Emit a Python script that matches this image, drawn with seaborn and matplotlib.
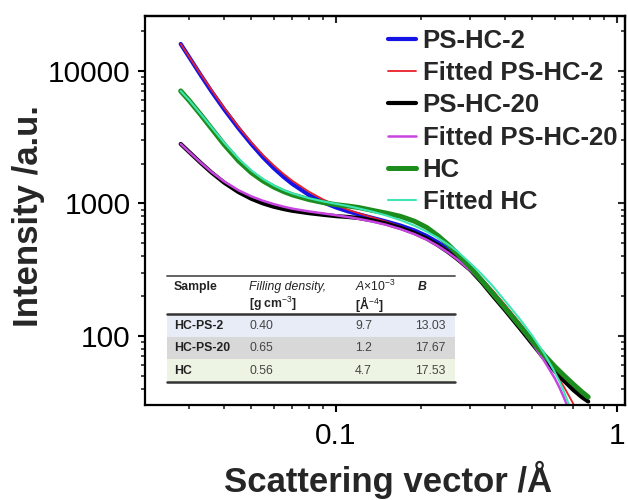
import matplotlib
matplotlib.use("Agg")
import matplotlib.pyplot as plt
import matplotlib.ticker as mticker
from matplotlib.patches import Rectangle
from matplotlib.lines import Line2D
import seaborn as sns
import pandas as pd

# ---- SAXS curves: scattering vector q and intensity ----
q_data = [0.028, 0.03, 0.033, 0.036, 0.04, 0.045, 0.05, 0.055, 0.06, 0.065,
          0.07, 0.08, 0.09, 0.1, 0.11, 0.12, 0.135, 0.15, 0.17, 0.19,
          0.21, 0.23, 0.25, 0.27, 0.3, 0.33, 0.36, 0.4, 0.45, 0.5,
          0.55, 0.6, 0.65, 0.7, 0.75, 0.79]
i_ps_hc_2 = [15990, 12733, 9298, 7037, 5128, 3685, 2802, 2229, 1849, 1588,
             1400, 1161, 1020, 933, 873, 829, 777, 733, 680, 626,
             569, 510, 452, 398, 326, 264, 214, 164, 121, 92,
             71.8, 57.5, 47.5, 40.3, 35.1]
i_ps_hc_20 = [2812, 2449, 2024, 1716, 1435, 1217, 1084, 1000, 945, 908,
              880, 845, 821, 802, 791, 777, 744, 707, 653, 599,
              544, 486, 431, 381, 316, 254, 203, 156, 115, 87,
              67.6, 54.5, 45.5, 39.0, 34.5, 32.0]
i_hc = [7066, 5988, 4675, 3696, 2780, 2095, 1705, 1478, 1331, 1231,
        1160, 1071, 1016, 979, 957, 933, 886, 848, 798, 735,
        660, 573, 492, 419, 331, 262, 211, 162, 120, 91.5,
        71.9, 58.9, 49.9, 43.1, 37.8, 34.6]

q_fit_2 = [0.028, 0.03, 0.033, 0.036, 0.04, 0.045, 0.05, 0.055, 0.06, 0.065,
           0.07, 0.08, 0.09, 0.1, 0.11, 0.12, 0.135, 0.15, 0.17, 0.19,
           0.21, 0.23, 0.25, 0.27, 0.3, 0.33, 0.36, 0.4, 0.45, 0.5,
           0.55, 0.6, 0.65, 0.7, 0.73]
fit_ps_hc_2 = [15990, 12825, 9454, 7219, 5260, 3780, 2889, 2320, 1941, 1673,
               1481, 1228, 1072, 970, 899, 846, 783, 731, 668, 608,
               550, 494, 442, 393, 327, 270, 222, 171, 126, 94.3,
               71.2, 53.9, 40.7, 30.6, 25.6]
q_fit_20 = [0.028, 0.03, 0.033, 0.036, 0.04, 0.045, 0.05, 0.055, 0.06, 0.065,
            0.07, 0.08, 0.09, 0.1, 0.11, 0.12, 0.135, 0.15, 0.17, 0.19,
            0.21, 0.23, 0.25, 0.27, 0.3, 0.33, 0.36, 0.4, 0.45, 0.5,
            0.55, 0.6, 0.625, 0.65, 0.665]
fit_ps_hc_20 = [2812, 2450, 2035, 1733, 1464, 1256, 1130, 1047, 989, 946,
                913, 871, 841, 815, 790, 766, 729, 692, 640, 587,
                533, 479, 427, 379, 313, 258, 211, 162, 119, 88,
                65.2, 48.1, 40.5, 33.6, 29.8]
q_fit_hc = [0.028, 0.03, 0.033, 0.036, 0.04, 0.045, 0.05, 0.055, 0.06, 0.065,
            0.07, 0.08, 0.09, 0.1, 0.11, 0.12, 0.135, 0.15, 0.17, 0.19,
            0.21, 0.23, 0.25, 0.27, 0.3, 0.33, 0.36, 0.4, 0.45, 0.5,
            0.55, 0.6, 0.625, 0.65, 0.67, 0.68]
fit_hc = [7066, 6029, 4729, 3772, 2868, 2174, 1770, 1527, 1370, 1264,
          1189, 1095, 1036, 993, 956, 919, 866, 815, 747, 680,
          614, 551, 491, 436, 355, 292, 240, 183, 135, 100,
          74.0, 53.5, 45.2, 37.2, 31.4, 28.7]

# ---- fit parameter table ----
tbl_samples = ["HC-PS-2", "HC-PS-20", "HC"]
tbl_density = ["0.40", "0.65", "0.56"]
tbl_a = ["9.7", "1.2", "4.7"]
tbl_b = ["13.03", "17.67", "17.53"]
tbl_colors = ["#E7ECF7", "#D8D8D8", "#EEF4E3"]

x_ticks = [0.1, 1]
y_ticks = [100, 1000, 10000]

sns.set_style("ticks")
plt.rcParams["font.family"] = ["Liberation Sans", "DejaVu Sans"]
plt.rcParams["mathtext.fontset"] = "custom"
plt.rcParams["mathtext.rm"] = "Liberation Sans"
plt.rcParams["mathtext.it"] = "Liberation Sans:italic"
plt.rcParams["mathtext.bf"] = "Liberation Sans:bold"

W, H = 628, 500
fig = plt.figure(figsize=(W / 100, H / 100), dpi=100)
ax = fig.add_axes([145 / W, 1 - 405 / H, 480 / W, 389 / H])
ax.set_xscale("log")
ax.set_yscale("log")

series = [
    ("PS-HC-2", q_data[:len(i_ps_hc_2)], i_ps_hc_2, "#1414E6", 3.0),
    ("Fitted PS-HC-2", q_fit_2, fit_ps_hc_2, "#E8202A", 1.3),
    ("PS-HC-20", q_data, i_ps_hc_20, "#000000", 3.0),
    ("Fitted PS-HC-20", q_fit_20, fit_ps_hc_20, "#C844E0", 1.8),
    ("HC", q_data, i_hc, "#1C8C1C", 3.6),
    ("Fitted HC", q_fit_hc, fit_hc, "#3EE6B4", 1.5),
]
for name, qq, ii, col, lw in series:
    df = pd.DataFrame({"q": qq, "I": ii})
    sns.lineplot(data=df, x="q", y="I", ax=ax, color=col, lw=lw,
                 label=name, estimator=None, sort=True)

ax.set_xlim(0.0209, 1.068)
ax.set_ylim(30.1, 26000)
ax.set_xlabel("")
ax.set_ylabel("")

fmt = mticker.FuncFormatter(lambda v, p: f"{v:g}")
ax.xaxis.set_major_locator(mticker.FixedLocator(x_ticks))
ax.yaxis.set_major_locator(mticker.FixedLocator(y_ticks))
ax.xaxis.set_major_formatter(fmt)
ax.yaxis.set_major_formatter(fmt)
for axis in (ax.xaxis, ax.yaxis):
    axis.set_minor_locator(mticker.LogLocator(base=10, subs=range(2, 10), numticks=20))
    axis.set_minor_formatter(mticker.NullFormatter())

ax.tick_params(which="major", direction="out", length=5, width=1.5,
               labelsize=21.5, colors="black")
ax.tick_params(which="minor", direction="out", length=3, width=1.2)
ax.tick_params(axis="y", pad=5.5)
ax.tick_params(axis="x", pad=7)
for s in ax.spines.values():
    s.set_visible(True)
    s.set_linewidth(1.6)
    s.set_color("black")

# mirrored inward ticks on top and right
top = ax.secondary_xaxis("top")
right = ax.secondary_yaxis("right")
for sec, axis in ((top, top.xaxis), (right, right.yaxis)):
    axis.set_major_locator(mticker.FixedLocator(x_ticks if sec is top else y_ticks))
    axis.set_minor_locator(mticker.LogLocator(base=10, subs=range(2, 10), numticks=20))
    axis.set_major_formatter(mticker.NullFormatter())
    axis.set_minor_formatter(mticker.NullFormatter())
    sec.tick_params(which="major", direction="in", length=5, width=1.5)
    sec.tick_params(which="minor", direction="in", length=3, width=1.2)
    for s in sec.spines.values():
        s.set_linewidth(1.6)

leg = ax.legend(loc="upper left", bbox_to_anchor=(388 / W, 1 - 29 / H),
                bbox_transform=fig.transFigure, frameon=False,
                prop={"weight": "bold", "size": 18.5}, handlelength=1.1,
                handletextpad=0.25, labelspacing=0.32, borderpad=0,
                borderaxespad=0)

fig.text(38 / W, 1 - 216 / H, "Intensity /a.u.", rotation=90,
         rotation_mode="anchor", ha="center", va="baseline",
         fontsize=25, fontweight="bold")
fig.text(388 / W, 1 - 492 / H, "Scattering vector /Å", ha="center",
         va="baseline", fontsize=25, fontweight="bold")

# ---- inset table ----
def fx(px):
    return px / W


def fy(py):
    return 1 - py / H


tx0, tx1 = 167, 455
row_edges = [314, 337, 359, 382]
for k, col in enumerate(tbl_colors):
    fig.add_artist(Rectangle((fx(tx0), fy(row_edges[k + 1])),
                             fx(tx1) - fx(tx0), fy(row_edges[k]) - fy(row_edges[k + 1]),
                             transform=fig.transFigure, facecolor=col,
                             edgecolor="none", zorder=5))
for py, lw, c in ((276, 1.3, "#555555"), (314, 1.8, "#333333"), (382, 1.8, "#333333")):
    fig.add_artist(Line2D([fx(tx0), fx(tx1)], [fy(py), fy(py)],
                          transform=fig.transFigure, color=c, lw=lw, zorder=6))

col_x = [174, 249, 355, 418]
tsize = 8.8
hdr = "#222222"
fig.text(fx(col_x[0]), fy(287), "Sample", fontsize=tsize, fontweight="bold",
         color=hdr, va="center", zorder=7)
fig.text(fx(col_x[1]), fy(287), "Filling density,", fontsize=tsize,
         style="italic", color=hdr, va="center", zorder=7)
fig.text(fx(col_x[1]), fy(304), "[g cm$^{-3}$]", fontsize=tsize,
         fontweight="bold", color=hdr, va="center", zorder=7)
fig.text(fx(col_x[2]), fy(286), r"$\mathit{A}$×10$^{-3}$", fontsize=tsize,
         color=hdr, va="center", zorder=7)
fig.text(fx(col_x[2]), fy(304.5), "[Å$^{-4}$]", fontsize=tsize,
         fontweight="bold", color=hdr, va="center", zorder=7)
fig.text(fx(col_x[3]), fy(287), "B", fontsize=tsize, fontweight="bold",
         style="italic", color=hdr, va="center", zorder=7)

row_y = [326, 348, 371]
for k in range(3):
    fig.text(fx(col_x[0]), fy(row_y[k]), tbl_samples[k], fontsize=tsize,
             fontweight="bold", color=hdr, va="center", zorder=7)
    fig.text(fx(col_x[1]), fy(row_y[k]), tbl_density[k], fontsize=tsize,
             color="#444444", va="center", zorder=7)
    fig.text(fx(col_x[2]), fy(row_y[k]), tbl_a[k], fontsize=tsize,
             color="#444444", va="center", zorder=7)
    fig.text(fx(446), fy(row_y[k]), tbl_b[k], fontsize=tsize,
             color="#444444", va="center", ha="right", zorder=7)

fig.savefig("out.png", dpi=100)
